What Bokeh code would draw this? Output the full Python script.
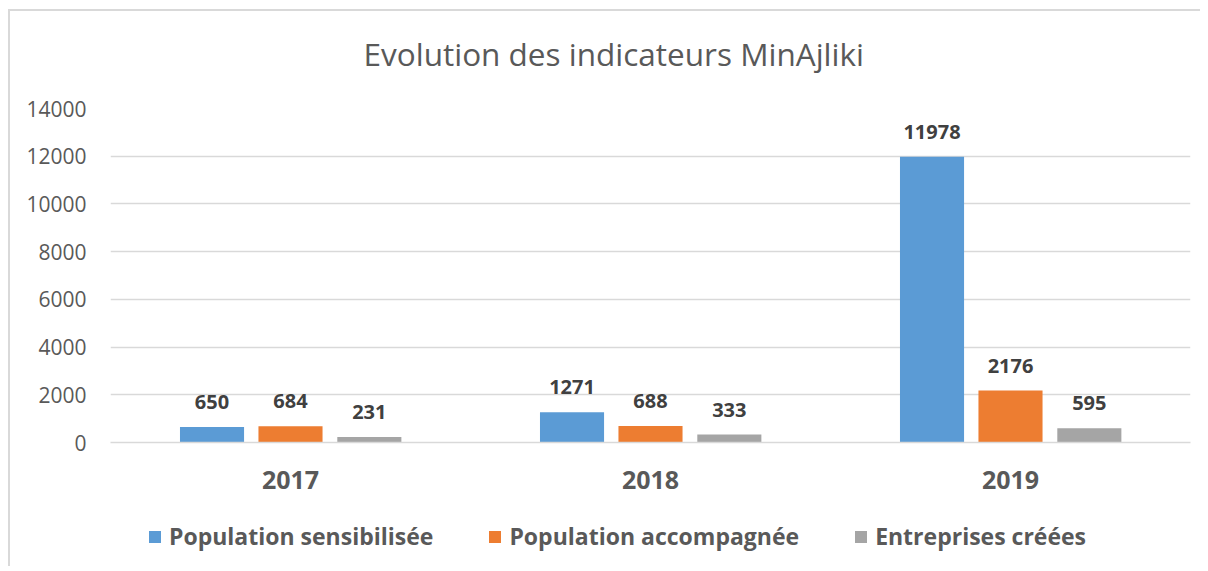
from bokeh.plotting import figure
from bokeh.layouts import column
from bokeh.models import (ColumnDataSource, FactorRange, Range1d, LabelSet, Legend,
                          LegendItem, FixedTicker, Title)
from bokeh.core.properties import value
from bokeh.transform import dodge
from bokeh.embed import file_html
from bokeh.resources import INLINE

title = "Evolution des indicateurs MinAjliki"
years = ["2017", "2018", "2019"]
series = ["Population sensibilisée", "Population accompagnée", "Entreprises créées"]
sensibilisee = [650, 1271, 11978]
accompagnee = [684, 688, 2176]
entreprises = [231, 333, 595]
y_ticks = [0, 2000, 4000, 6000, 8000, 10000, 12000, 14000]

colors = ["#5B9BD5", "#ED7D31", "#A5A5A5"]
offsets = [-0.218, 0.0, 0.219]
values = [sensibilisee, accompagnee, entreprises]

FONT = "Open Sans"

p = figure(width=1190, height=500, x_range=FactorRange(*years, range_padding=0),
           y_range=Range1d(0, 14000), output_backend="svg", toolbar_location=None,
           min_border_left=100, min_border_right=10, min_border_top=97,
           min_border_bottom=69, title=title)
p.outline_line_color = None
p.background_fill_color = "white"
p.border_fill_color = "white"

p.title.text_font = FONT
p.title.text_font_size = "31.5px"
p.title.text_font_style = "normal"
p.title.text_color = "#595959"
p.title.align = "left"
p.title.offset = 253
p.title.standoff = 0

# empty spacer between the title and the plot area
p.add_layout(Title(text=" ", text_font_size="1px", standoff=31), "above")

p.xgrid.grid_line_color = None
p.ygrid.grid_line_color = "#d9d9d9"
p.ygrid.grid_line_width = 1.5
p.yaxis.ticker = FixedTicker(ticks=y_ticks)
p.yaxis.axis_line_color = None
p.yaxis.major_tick_line_color = None
p.yaxis.minor_tick_line_color = None
p.yaxis.major_label_text_font = FONT
p.yaxis.major_label_text_font_size = "21px"
p.yaxis.major_label_text_color = "#595959"
p.yaxis.major_label_standoff = 18

p.xaxis.axis_line_color = "#d9d9d9"
p.xaxis.axis_line_width = 1.5
p.xaxis.major_tick_line_color = None
p.xaxis.minor_tick_line_color = None
p.xaxis.major_label_text_font = FONT
p.xaxis.major_label_text_font_size = "25px"
p.xaxis.major_label_text_font_style = "bold"
p.xaxis.major_label_text_color = "#595959"
p.xaxis.major_label_standoff = 22

# legend-only strip below the chart (proxy bars are hair-thin and off-range)
pl = figure(width=1190, height=55, output_backend="svg", toolbar_location=None,
            x_axis_location=None, y_axis_location=None, min_border=0,
            x_range=FactorRange(*years), y_range=Range1d(-2, -1))
pl.outline_line_color = None
pl.grid.grid_line_color = None

items = []
for name, vals, col, off in zip(series, values, colors, offsets):
    src = ColumnDataSource(dict(year=years, v=vals, lbl=[str(x) for x in vals]))
    p.vbar(x=dodge("year", off, range=p.x_range), top="v", width=0.178,
           source=src, fill_color=col, line_color=None)
    labels = LabelSet(x=dodge("year", off, range=p.x_range), y="v", text="lbl",
                      source=src, text_align="center", text_baseline="alphabetic",
                      y_offset=18, text_font=value(FONT), text_font_size="20px",
                      text_font_style="bold", text_color="#404040")
    p.add_layout(labels)
    lr = pl.vbar(x="year", top="v", bottom="v", width=0.00001, source=src,
                 fill_color=col, line_color=None)
    items.append(LegendItem(label=name, renderers=[lr]))

legend = Legend(items=items, orientation="horizontal", location=(37, 14),
                glyph_width=15, glyph_height=15, label_standoff=7, spacing=54,
                label_text_font=FONT, label_text_font_size="23px",
                label_text_font_style="bold", label_text_color="#595959",
                border_line_color=None, background_fill_alpha=0,
                margin=0, padding=5)
pl.add_layout(legend)

layout = column(p, pl, spacing=0,
                styles={"margin-left": "8px", "margin-top": "9px",
                        "border-left": "2px solid #d9d9d9",
                        "border-top": "2px solid #d9d9d9"})

open("out.html", "w").write(file_html(layout, INLINE))
